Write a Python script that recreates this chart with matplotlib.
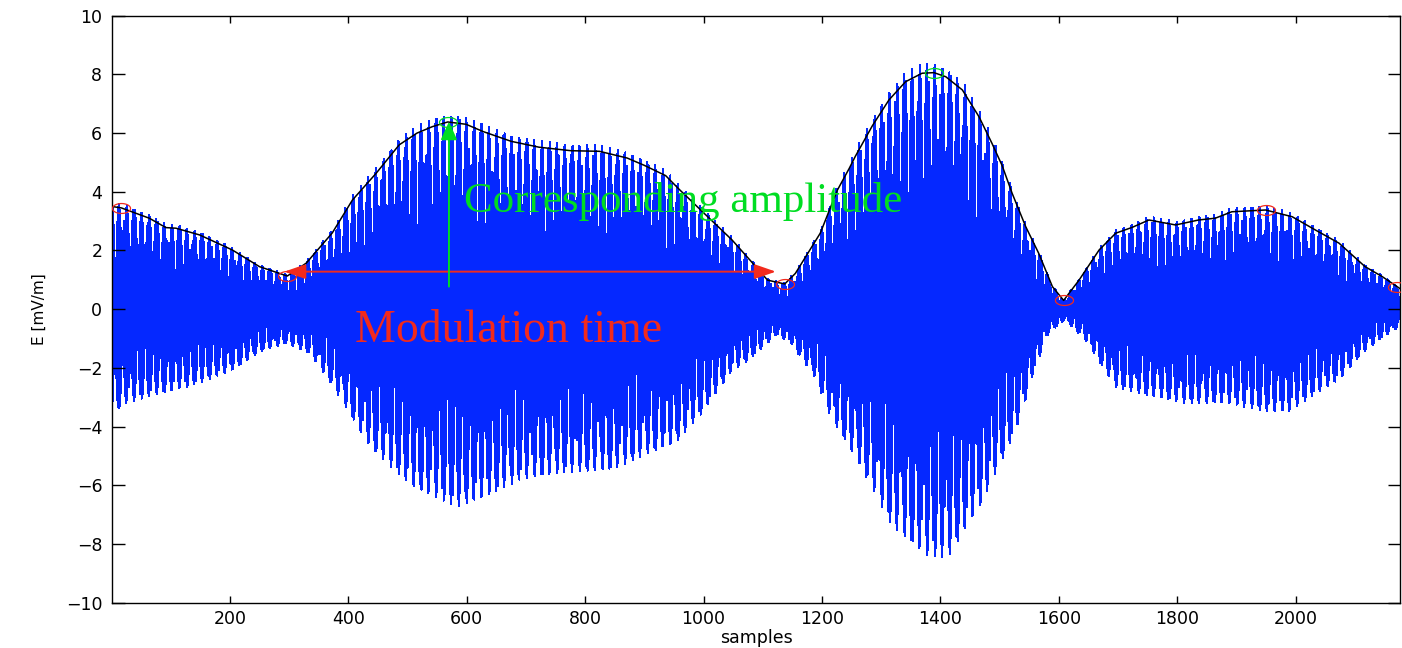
'''Amplitude-modulated E-field record with its envelope,
envelope minima/maxima and the modulation-time / amplitude markers.'''

import numpy as np
import matplotlib
matplotlib.use('Agg')
import matplotlib.pyplot as plt
from matplotlib.path import Path

plt.rcParams['path.simplify'] = False

# upper envelope (black curve), sample index -> mV/m
env_x = [1, 17, 64, 92, 109, 149, 204, 250, 297, 329, 373, 407, 447, 486, 516,
         542, 568, 599, 628, 675, 722, 776, 824, 871, 900, 936, 960, 1007, 1048,
         1078, 1108, 1137, 1155, 1197, 1226, 1246, 1256, 1285, 1313, 1341, 1369,
         1389, 1409, 1437, 1465, 1487, 1504, 1521, 1544, 1566, 1589, 1608, 1634,
         1668, 1696, 1724, 1752, 1797, 1836, 1864, 1892, 1949, 1994, 2033, 2073,
         2117, 2146, 2171, 2176]
env_y = [3.5, 3.45, 3.1, 2.78, 2.76, 2.53, 2.02, 1.45, 1.13, 1.57, 2.6, 3.72,
         4.63, 5.6, 6.0, 6.22, 6.38, 6.3, 6.05, 5.72, 5.52, 5.4, 5.38, 5.15, 4.9,
         4.55, 4.06, 3.15, 2.36, 1.68, 0.99, 0.86, 1.22, 2.59, 4.06, 4.8, 5.2,
         6.25, 7.13, 7.75, 8.04, 8.06, 7.92, 7.47, 6.56, 5.65, 4.9, 3.95, 2.81,
         1.9, 0.77, 0.3, 0.99, 2.02, 2.59, 2.79, 3.04, 2.87, 3.04, 3.1, 3.32,
         3.38, 3.15, 2.7, 2.25, 1.45, 1.11, 0.77, 0.7]

# lower edge of the raw signal
low_x = [1, 25, 62, 130, 206, 251, 296, 334, 371, 432, 477, 515, 552, 582, 628,
         688, 771, 846, 906, 952, 997, 1050, 1077, 1095, 1122, 1147, 1189, 1217,
         1252, 1287, 1315, 1344, 1379, 1414, 1441, 1470, 1498, 1526, 1554, 1582,
         1610, 1645, 1673, 1695, 1743, 1814, 1884, 1954, 1989, 2031, 2073, 2115,
         2157, 2176]
low_y = [-3.55, -3.2, -2.98, -2.64, -2.07, -1.45, -1.16, -1.5, -2.52, -4.57,
         -5.48, -6.16, -6.44, -6.73, -6.44, -5.82, -5.54, -5.48, -4.91, -4.57,
         -3.55, -2.07, -1.73, -1.39, -0.88, -1.16, -2.36, -3.78, -4.91, -6.16,
         -7.3, -7.86, -8.43, -8.43, -7.52, -6.61, -5.37, -4.23, -2.41, -0.82,
         -0.37, -1.05, -1.96, -2.64, -2.92, -3.2, -3.2, -3.49, -3.49, -2.92,
         -2.41, -1.45, -0.82, -0.6]

# envelope extrema picked out
min_idx = [17, 297, 1137, 1608, 1949, 2171]
max_idx = [568, 1389]

# modulation time arrow (between two minima) and amplitude arrow
mod_arrow_x = [292, 1122]
mod_arrow_y = 1.28
amp_arrow_x = 570
amp_arrow_y = [0.77, 6.39]

n_samples = 2176
carrier_f = 0.4608   # cycles per sample

x_ticks = [200, 400, 600, 800, 1000, 1200, 1400, 1600, 1800, 2000]
y_ticks = [-10, -8, -6, -4, -2, 0, 2, 4, 6, 8, 10]

blue = '#0528ff'
red = '#f22a1c'
green = '#00dd22'


def build_signal():
    n = np.arange(1, n_samples + 1)
    up = np.interp(n, env_x, env_y) * 1.04
    lo = np.interp(n, low_x, low_y)
    ph = np.cos(2 * np.pi * carrier_f * n)
    carrier = np.sign(ph) * np.abs(ph) ** 0.4
    mid = (up + lo) / 2
    half = (up - lo) / 2
    return n, mid + half * carrier


t = np.linspace(0, 2 * np.pi, 60)
ellipse = Path(np.column_stack([np.cos(t), 0.55 * np.sin(t)]))

fig = plt.figure(figsize=(14.02, 6.48), dpi=100)
ax = fig.add_axes([112 / 1402, 45.3 / 648, 1288 / 1402, 587 / 648])

n, sig = build_signal()
ax.plot(n, sig, color=blue, lw=0.75, antialiased=False, zorder=1)

ex = np.arange(1, n_samples + 1)
ax.plot(ex, np.interp(ex, env_x, env_y), color='k', lw=1.1, zorder=2)

ax.plot(min_idx, np.interp(min_idx, env_x, env_y), ls='none', marker=ellipse,
        ms=13, mfc='none', mec=red, mew=0.9, zorder=3)
ax.plot(max_idx, np.interp(max_idx, env_x, env_y), ls='none', marker=ellipse,
        ms=13, mfc='none', mec=green, mew=0.9, zorder=3)

ax.annotate('', xy=(mod_arrow_x[0], mod_arrow_y), xytext=(mod_arrow_x[1], mod_arrow_y),
            arrowprops=dict(arrowstyle='<|-|>,head_length=1.3,head_width=0.45',
                            mutation_scale=10, color=red, lw=1.4,
                            shrinkA=0, shrinkB=0), zorder=4)
ax.annotate('', xy=(amp_arrow_x, amp_arrow_y[1]), xytext=(amp_arrow_x, amp_arrow_y[0]),
            arrowprops=dict(arrowstyle='-|>,head_length=1.1,head_width=0.5',
                            mutation_scale=10, color=green, lw=1.4,
                            shrinkA=0, shrinkB=0), zorder=4)

ax.text(596, 3.32, 'Corresponding amplitude', color=green, fontsize=31,
        family='Liberation Serif', va='baseline', zorder=5)
ax.text(412, -1.11, 'Modulation time', color=red, fontsize=33,
        family='Liberation Serif', va='baseline', zorder=5)

ax.set_xlim(1, n_samples)
ax.set_ylim(-10, 10)
ax.set_xticks(x_ticks)
ax.set_yticks(y_ticks)
ax.tick_params(direction='in', top=True, right=True, labelsize=12.5, width=1)
ax.tick_params(axis='x', length=5, pad=5)
ax.tick_params(axis='y', length=9, pad=7)
for sp in ax.spines.values():
    sp.set_linewidth(1)
ax.set_xlabel('samples', fontsize=12.5, labelpad=1)
ax.set_ylabel('E [mV/m]', fontsize=11, labelpad=14)

fig.savefig('out.png', dpi=100)
